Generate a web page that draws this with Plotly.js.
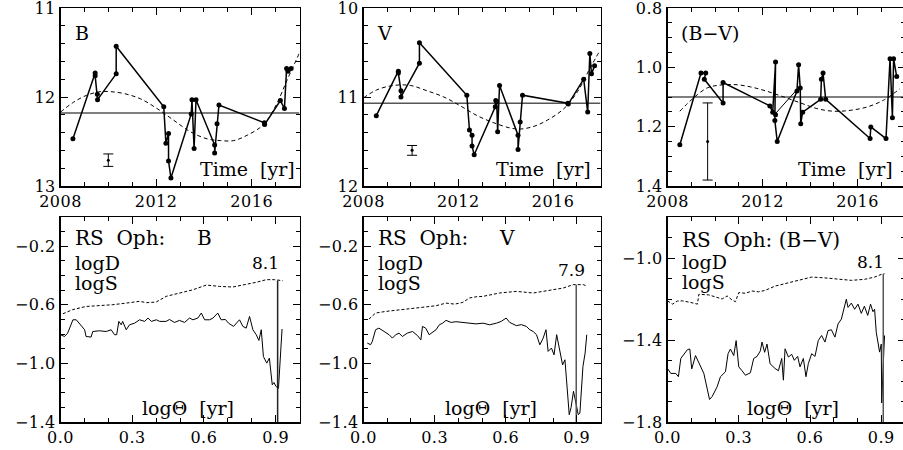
<!DOCTYPE html>
<html><head><meta charset="utf-8">
<script src="https://cdn.plot.ly/plotly-3.0.1.min.js"></script>
<style>html,body{margin:0;padding:0;overflow:hidden;background:#fff}#c{width:906px;height:450px}
[class*="tick"] > text{letter-spacing:0.5px}</style>
</head><body><div id="c"></div>
<script>
// ---------- top row: light curves ----------
const bYear = [2008.52, 2009.45, 2009.45, 2009.54, 2009.55, 2010.33, 2010.33, 2012.32, 2012.41, 2012.52, 2012.52, 2012.62, 2013.47, 2013.50, 2013.59, 2013.67, 2014.45, 2014.45, 2014.55, 2014.63, 2016.53, 2016.54, 2017.20, 2017.37, 2017.46, 2017.52, 2017.65];
const bMag  = [12.47, 11.73, 11.76, 11.97, 12.03, 11.74, 11.43, 12.11, 12.52, 12.41, 12.72, 12.91, 12.19, 12.03, 12.58, 12.03, 12.54, 12.63, 12.30, 12.09, 12.29, 12.31, 12.04, 12.13, 11.68, 11.71, 11.68];
const bFitYear = [2008.0, 2008.54, 2009.10, 2009.66, 2010.08, 2010.64, 2011.34, 2012.04, 2012.73, 2013.43, 2014.13, 2014.69, 2015.25, 2015.81, 2016.37, 2016.65, 2017.06, 2017.48, 2017.99];
const bFitMag  = [12.17, 12.06, 11.98, 11.94, 11.94, 11.96, 12.02, 12.13, 12.26, 12.39, 12.47, 12.49, 12.49, 12.43, 12.34, 12.26, 12.07, 11.81, 11.51];
const bMean = 12.18;
const bErr = {x: 2010.0, y: 12.71, e: 0.07};

const vYear = [2008.54, 2009.47, 2009.47, 2009.58, 2009.58, 2010.36, 2010.36, 2012.36, 2012.47, 2012.58, 2012.58, 2012.67, 2013.56, 2013.58, 2013.62, 2013.66, 2013.74, 2014.52, 2014.52, 2014.61, 2014.71, 2016.62, 2016.64, 2017.29, 2017.46, 2017.55, 2017.62, 2017.75];
const vMag  = [11.21, 10.71, 10.73, 10.93, 11.00, 10.62, 10.39, 10.98, 11.37, 11.43, 11.55, 11.65, 11.11, 11.04, 11.05, 11.39, 10.87, 11.43, 11.59, 11.28, 10.98, 11.07, 11.08, 10.80, 11.17, 10.51, 10.74, 10.65];
const vFitYear = [2008.0, 2008.56, 2009.27, 2009.97, 2010.68, 2011.39, 2012.09, 2012.80, 2013.50, 2014.21, 2014.63, 2015.19, 2015.76, 2016.46, 2017.03, 2017.59, 2017.97];
const vFitMag  = [11.01, 10.92, 10.87, 10.87, 10.93, 11.00, 11.10, 11.21, 11.29, 11.35, 11.36, 11.33, 11.26, 11.13, 10.94, 10.66, 10.48];
const vMean = 11.07;
const vErr = {x: 2010.05, y: 11.60, e: 0.055};

const bvYear = [2008.52, 2009.41, 2009.61, 2009.55, 2010.34, 2010.34, 2012.31, 2012.43, 2012.55, 2012.55, 2012.52, 2012.62, 2013.45, 2013.52, 2013.59, 2013.61, 2013.69, 2014.45, 2014.48, 2014.55, 2014.66, 2016.53, 2016.56, 2017.20, 2017.37, 2017.47, 2017.52, 2017.65];
const bvVal  = [1.261, 1.019, 1.019, 1.040, 1.120, 1.051, 1.130, 1.151, 0.982, 1.160, 1.179, 1.250, 1.080, 0.991, 1.070, 1.190, 1.151, 1.108, 1.040, 1.019, 1.108, 1.240, 1.201, 1.240, 0.971, 1.170, 0.971, 1.031];
const bvThinYear = [2012.50, 2013.45];
const bvThinVal  = [1.160, 1.075];
const bvFitYear = [2008.52, 2008.84, 2009.26, 2009.68, 2010.10, 2010.80, 2011.50, 2012.20, 2012.90, 2013.60, 2014.29, 2014.99, 2015.69, 2016.39, 2017.09, 2017.79];
const bvFitVal  = [1.148, 1.122, 1.092, 1.069, 1.061, 1.058, 1.066, 1.081, 1.100, 1.120, 1.139, 1.148, 1.145, 1.134, 1.111, 1.072];
const bvMean = 1.10;
const bvErr = {x: 2009.69, y: 1.25, e: 0.13};

// ---------- bottom row: periodograms ----------
const bSTheta = [0.01, 0.05, 0.107, 0.163, 0.219, 0.275, 0.331, 0.36, 0.40, 0.442, 0.498, 0.554, 0.61, 0.665, 0.721, 0.777, 0.819, 0.861, 0.895, 0.93];
const bS      = [-0.661, -0.633, -0.611, -0.606, -0.599, -0.588, -0.576, -0.585, -0.581, -0.542, -0.522, -0.497, -0.465, -0.474, -0.478, -0.462, -0.446, -0.428, -0.428, -0.435];
const bDTheta = [0.0, 0.017, 0.03, 0.052, 0.066, 0.087, 0.101, 0.107, 0.128, 0.135, 0.163, 0.191, 0.212, 0.226, 0.235, 0.244, 0.254, 0.26, 0.275, 0.289, 0.31, 0.331, 0.352, 0.366, 0.38, 0.401, 0.415, 0.442, 0.456, 0.477, 0.498, 0.519, 0.54, 0.554, 0.575, 0.589, 0.603, 0.624, 0.638, 0.658, 0.672, 0.69, 0.703, 0.724, 0.749, 0.763, 0.777, 0.791, 0.805, 0.819, 0.83, 0.84, 0.849, 0.863, 0.874, 0.886, 0.893, 0.902, 0.912, 0.927];
const bD      = [-0.804, -0.816, -0.793, -0.702, -0.702, -0.747, -0.77, -0.816, -0.82, -0.782, -0.777, -0.782, -0.77, -0.804, -0.804, -0.713, -0.736, -0.713, -0.77, -0.736, -0.725, -0.702, -0.713, -0.69, -0.713, -0.702, -0.713, -0.713, -0.70, -0.72, -0.706, -0.72, -0.69, -0.702, -0.69, -0.656, -0.702, -0.702, -0.69, -0.656, -0.702, -0.70, -0.725, -0.747, -0.702, -0.747, -0.759, -0.679, -0.77, -0.804, -0.843, -0.77, -0.953, -0.998, -0.964, -1.146, -1.13, -1.158, -1.17, -0.765];

const vSTheta = [0.023, 0.051, 0.093, 0.136, 0.193, 0.249, 0.306, 0.348, 0.385, 0.419, 0.447, 0.475, 0.504, 0.574, 0.645, 0.716, 0.787, 0.843, 0.885, 0.928, 0.94];
const vS      = [-0.697, -0.656, -0.645, -0.638, -0.629, -0.615, -0.606, -0.588, -0.595, -0.583, -0.553, -0.545, -0.542, -0.519, -0.508, -0.519, -0.501, -0.485, -0.462, -0.462, -0.47];
const vDTheta = [0.016, 0.03, 0.037, 0.051, 0.065, 0.086, 0.108, 0.122, 0.136, 0.15, 0.164, 0.185, 0.207, 0.228, 0.242, 0.249, 0.263, 0.277, 0.291, 0.306, 0.32, 0.334, 0.348, 0.37, 0.39, 0.419, 0.447, 0.475, 0.504, 0.532, 0.561, 0.581, 0.602, 0.617, 0.645, 0.666, 0.687, 0.702, 0.716, 0.73, 0.744, 0.758, 0.77, 0.779, 0.793, 0.804, 0.815, 0.829, 0.84, 0.85, 0.858, 0.868, 0.876, 0.886, 0.900, 0.906, 0.913, 0.926, 0.935, 0.942];
const vD      = [-0.861, -0.872, -0.85, -0.77, -0.759, -0.782, -0.804, -0.827, -0.804, -0.793, -0.816, -0.793, -0.782, -0.81, -0.839, -0.747, -0.76, -0.804, -0.785, -0.77, -0.736, -0.725, -0.706, -0.72, -0.715, -0.72, -0.725, -0.73, -0.725, -0.736, -0.725, -0.713, -0.69, -0.72, -0.742, -0.735, -0.747, -0.77, -0.782, -0.804, -0.873, -0.827, -0.77, -0.918, -0.895, -0.941, -0.804, -0.93, -1.01, -0.975, -1.146, -1.35, -1.30, -1.19, -1.30, -1.35, -1.34, -1.02, -0.93, -0.804];

const bvSTheta = [0.0, 0.021, 0.042, 0.063, 0.098, 0.126, 0.132, 0.174, 0.202, 0.23, 0.251, 0.272, 0.286, 0.3, 0.328, 0.356, 0.384, 0.411, 0.453, 0.495, 0.551, 0.607, 0.663, 0.718, 0.774, 0.83, 0.872, 0.9, 0.914];
const bvS      = [-1.209, -1.225, -1.21, -1.209, -1.217, -1.225, -1.177, -1.18, -1.19, -1.2, -1.185, -1.205, -1.213, -1.169, -1.172, -1.161, -1.165, -1.158, -1.137, -1.126, -1.109, -1.093, -1.097, -1.104, -1.109, -1.104, -1.093, -1.08, -1.077];
const bvDTheta = [0.0, 0.014, 0.035, 0.046, 0.056, 0.07, 0.084, 0.094, 0.102, 0.118, 0.132, 0.153, 0.177, 0.188, 0.209, 0.223, 0.244, 0.255, 0.265, 0.279, 0.289, 0.3, 0.314, 0.328, 0.349, 0.363, 0.377, 0.391, 0.398, 0.409, 0.419, 0.432, 0.453, 0.467, 0.481, 0.488, 0.495, 0.509, 0.523, 0.534, 0.548, 0.558, 0.572, 0.583, 0.593, 0.607, 0.621, 0.635, 0.649, 0.663, 0.676, 0.69, 0.705, 0.718, 0.732, 0.739, 0.753, 0.76, 0.774, 0.788, 0.802, 0.816, 0.829, 0.843, 0.855, 0.865, 0.872, 0.879, 0.893, 0.9, 0.902, 0.911, 0.914];
const bvD      = [-1.539, -1.563, -1.563, -1.579, -1.49, -1.467, -1.447, -1.444, -1.541, -1.476, -1.508, -1.563, -1.69, -1.676, -1.628, -1.579, -1.555, -1.467, -1.444, -1.476, -1.403, -1.531, -1.55, -1.572, -1.56, -1.49, -1.48, -1.453, -1.41, -1.46, -1.42, -1.516, -1.539, -1.55, -1.49, -1.596, -1.443, -1.483, -1.47, -1.499, -1.48, -1.531, -1.49, -1.579, -1.515, -1.467, -1.48, -1.402, -1.378, -1.41, -1.354, -1.35, -1.386, -1.322, -1.298, -1.266, -1.201, -1.241, -1.22, -1.25, -1.225, -1.27, -1.235, -1.28, -1.225, -1.262, -1.25, -1.362, -1.459, -1.42, -1.707, -1.45, -1.378];

const periods = [8.1, 7.9, 8.1];           // yr, marked by vertical lines
const periodTop = [-0.433, -0.462, -1.077]; // logS level where line starts
const periodLabels = ['8.1', '7.9', '8.1'];

// ---------- layout helpers ----------
const W = 906, H = 450;
const px = x => x / W, py = y => 1 - y / H;
const cols = [[60.5, 299.5], [363.5, 600.5], [667.5, 905]];
const topRow = [8, 186], botRow = [217, 422];
const FONT = 'DejaVu Serif';
const traces = [];
const black = '#000';

function addTop(i, yr, val, fy, fv, mean, err) {
  const xa = 'x' + (i === 0 ? '' : i + 1), ya = 'y' + (i === 0 ? '' : i + 1);
  traces.push({x: [2008, 2018], y: [mean, mean], xaxis: xa, yaxis: ya, mode: 'lines', line: {color: '#555', width: 1.5}});
  traces.push({x: fy, y: fv, xaxis: xa, yaxis: ya, mode: 'lines', line: {color: black, width: 1, dash: '4px,3px', shape: 'spline'}});
  traces.push({x: yr, y: val, xaxis: xa, yaxis: ya, mode: 'lines+markers', line: {color: black, width: 1.5}, marker: {color: black, size: 5}});
  traces.push({x: [err.x], y: [err.y], xaxis: xa, yaxis: ya, mode: 'markers', marker: {color: black, size: 3},
    error_y: {type: 'data', array: [err.e], color: black, thickness: 1, width: 5}});
}
addTop(0, bYear, bMag, bFitYear, bFitMag, bMean, bErr);
addTop(1, vYear, vMag, vFitYear, vFitMag, vMean, vErr);
addTop(2, bvYear, bvVal, bvFitYear, bvFitVal, bvMean, bvErr);
traces.push({x: bvThinYear, y: bvThinVal, xaxis: 'x3', yaxis: 'y3', mode: 'lines', line: {color: black, width: 1}});

const bottoms = [[bSTheta, bS, bDTheta, bD, -1.4], [vSTheta, vS, vDTheta, vD, -1.4], [bvSTheta, bvS, bvDTheta, bvD, -1.8]];
bottoms.forEach((b, k) => {
  const xa = 'x' + (k + 4), ya = 'y' + (k + 4);
  traces.push({x: b[0], y: b[1], xaxis: xa, yaxis: ya, mode: 'lines', line: {color: black, width: 1, dash: '3px,2px'}});
  traces.push({x: b[2], y: b[3], xaxis: xa, yaxis: ya, mode: 'lines', line: {color: black, width: 1}});
  const lt = Math.log10(periods[k]);
  traces.push({x: [lt, lt], y: [periodTop[k], b[4]], xaxis: xa, yaxis: ya, mode: 'lines', line: {color: k === 0 ? '#222' : '#555', width: 1.5}});
});

function axis(dom, range, dtick, tick0, minor, fmt) {
  return {domain: dom, range: range, dtick: dtick, tick0: tick0, tickformat: fmt,
    showline: true, linecolor: black, linewidth: 1.5, mirror: 'ticks', ticks: 'inside', ticklen: 7, tickwidth: 1, tickcolor: black,
    minor: {dtick: minor, ticks: 'inside', ticklen: 4, tickwidth: 1, tickcolor: black},
    showgrid: false, zeroline: false, fixedrange: true, ticklabeloverflow: 'allow',
    tickfont: {family: FONT, size: 16, color: black}};
}
const layout = {width: W, height: H, margin: {l: 0, r: 0, t: 0, b: 0}, showlegend: false,
  paper_bgcolor: '#fff', plot_bgcolor: '#fff', annotations: []};
const topY = [[13.0005, 10.9995], [12.0005, 9.9995], [1.40005, 0.79995]];
const topDt = [[1, 11, 0.2, ''], [1, 10, 0.2, ''], [0.2, 0.8, 0.05, '.1f']];
const botY = [[-1.4, 0], [-1.4, 0], [-1.8, -0.8]];
for (let i = 0; i < 3; i++) {
  const sx = i === 0 ? '' : String(i + 1);
  const cd = [px(cols[i][0]), px(cols[i][1])];
  layout['xaxis' + sx] = Object.assign(axis(cd, [2008, 2018], 4, 2008, 1, 'd'), {anchor: 'y' + sx});
  layout['yaxis' + sx] = Object.assign(axis([py(topRow[1]), py(topRow[0])], topY[i], topDt[i][0], topDt[i][1], topDt[i][2], topDt[i][3]), {anchor: 'x' + sx});
  const s2 = String(i + 4);
  layout['xaxis' + s2] = Object.assign(axis(cd, [0, 1], 0.3, 0, 0.1, '.1f'), {anchor: 'y' + s2});
  layout['yaxis' + s2] = Object.assign(axis([py(botRow[1]), py(botRow[0])], botY[i], 0.4, i === 2 ? -1.0 : -0.2, 0.1, '.1f'), {anchor: 'x' + s2});
}

function txt(t, x, y, anchor, size) {
  layout.annotations.push({text: t, x: px(x), y: py(y), xref: 'paper', yref: 'paper', xanchor: anchor, yanchor: 'middle',
    showarrow: false, font: {family: FONT, size: size || 19, color: black}});
}
const sp = n => '\u00A0'.repeat(n);
txt('B', 73, 33, 'left');
txt('V', 375, 33, 'left');
txt('(B\u2212V)', 679, 33, 'left');
txt('Time' + sp(2) + '[yr]', 297, 169, 'right');
txt('Time' + sp(2) + '[yr]', 593, 169, 'right');
txt('Time' + sp(2) + '[yr]', 895, 169, 'right');
txt('RS' + sp(2) + 'Oph:' + sp(5) + 'B', 73, 238, 'left', 20);
txt('RS' + sp(2) + 'Oph:' + sp(5) + 'V', 376, 238, 'left', 20);
txt('RS' + sp(2) + 'Oph:' + sp(1) + '(B\u2212V)', 680, 240, 'left', 20);
[[73, 263, 283], [376, 263, 283], [680, 262, 282]].forEach(p => { txt('logD', p[0], p[1], 'left'); txt('logS', p[0], p[2], 'left'); });
txt('log\u0398' + sp(2) + '[yr]', 236, 408, 'right');
txt('log\u0398' + sp(2) + '[yr]', 539, 408, 'right');
txt('log\u0398' + sp(2) + '[yr]', 841, 408, 'right');
txt(periodLabels[0], 281, 263, 'right', 17);
txt(periodLabels[1], 587, 270, 'right', 17);
txt(periodLabels[2], 886, 262, 'right', 17);

Plotly.newPlot('c', traces, layout, {staticPlot: true});
</script></body></html>
